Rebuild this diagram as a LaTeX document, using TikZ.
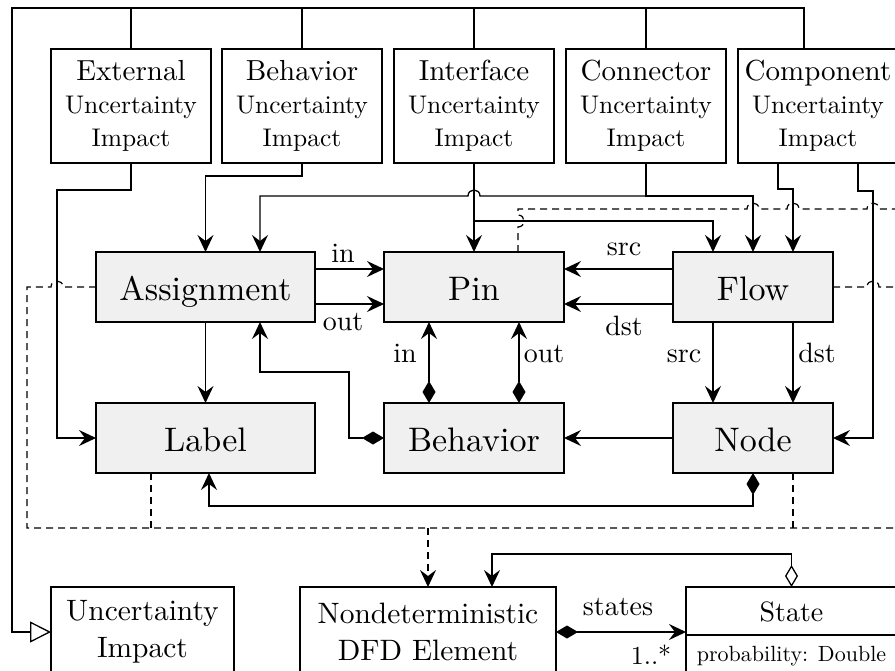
\documentclass[tikz,border=0pt]{standalone}
\usepackage{fontspec}
\setmainfont{lmroman10-regular.otf}
\usetikzlibrary{arrows.meta,calc}
\definecolor{boxgray}{RGB}{240,240,240}
\tikzset{
  stl/.tip={Stealth[length=17pt,width=16pt,inset=6pt]},
  dia/.tip={Diamond[length=22pt,width=13pt]},
  odia/.tip={Diamond[open,length=22pt,width=13pt,fill=white]},
  gtri/.tip={Triangle[open,length=21pt,width=21pt,fill=white]},
}
\begin{document}
\begin{tikzpicture}[x=1pt,y=-1pt,
  line width=1.3pt,
  every node/.style={inner sep=0pt, outer sep=0pt},
  impact/.style={draw, minimum width=160pt, minimum height=114pt, text width=160pt, align=center},
  elem/.style={draw, fill=boxgray, minimum height=70pt, text height=27pt, text depth=0pt, font=\fontsize{34}{40}\selectfont},
  bottombox/.style={draw, minimum height=90pt, align=center, font=\fontsize{29.5}{37}\selectfont},
  lbl/.style={anchor=base, font=\fontsize{28}{32}\selectfont},
  dsh/.style={dash pattern=on 7pt off 5pt, line width=1.2pt},
]
\useasboundingbox (0,0) rectangle (895,670);
\clip (0,0) rectangle (895,670);

% top impact boxes
\newcommand{\imptext}[1]{{\fontsize{29}{34}\selectfont #1\par}{\fontsize{25.5}{33}\selectfont Uncertainty\par Impact\par}}
\node[impact] (ext)  at (131,106) {\imptext{External}};
\node[impact] (behi) at (302,106) {\imptext{Behavior}};
\node[impact] (int)  at (474,106) {\imptext{Interface}};
\node[impact] (con)  at (646,106) {\imptext{Connector}};
\node[impact] (com)  at (818,106) {\imptext{Component}};

% main elements
\node[elem, minimum width=219pt] (asg)  at (205.5,287) {Assignment};
\node[elem, minimum width=180pt] (pin)  at (474,287) {Pin};
\node[elem, minimum width=160pt] (flow) at (753,287) {Flow};
\node[elem, minimum width=219pt] (lab)  at (205.5,438) {Label};
\node[elem, minimum width=180pt] (bhv)  at (474,438) {Behavior};
\node[elem, minimum width=160pt] (nd)   at (753,438) {Node};

% bottom boxes
\node[bottombox, minimum width=183pt] (ui)  at (142.5,632) {Uncertainty\\Impact};
\node[bottombox, minimum width=256pt] (nde) at (428,632) {Nondeterministic\\DFD Element};
\node[draw, minimum width=211pt, minimum height=90pt] (st) at (791.5,632) {};
\draw ($(st.north west)+(0,48)$) -- ($(st.north east)+(0,48)$);
\node[anchor=base, font=\fontsize{28}{32}\selectfont] (sttitle) at (791.5,621) {State};
\node[anchor=base, font=\fontsize{22}{26}\selectfont] (stattr) at (791.5,661) {probability: Double};

% top frame (generalization)
\coordinate (tl) at (12,8);
\draw[-{gtri}] ([xshift=-14pt]com.north) |- (tl) |- (ui.west);
\draw (ext.north) -- (ext.north |- tl);
\draw (behi.north) -- (behi.north |- tl);
\draw (int.north) -- (int.north |- tl);
\draw (con.north) -- (con.north |- tl);

% impacts
\draw[-{stl}] (ext.south) |- (57,190) |- (lab.west);
\draw[-{stl}] (behi.south) -- ++(0,13) -| (asg.north);
\coordinate (cj) at (646,196);
\draw[-{stl}] (con.south) |- (753,196) -- (flow.north);
\draw[-{stl}] (cj) -- (480,196) .. controls (480,188) and (468,188) .. (468,196) -- (260,196) -- ([xshift=54.5pt]asg.north);
\draw[-{stl}] (int.south) -- (pin.north);
\coordinate (ij) at (474,221);
\draw[-{stl}] (ij) -| ([xshift=-40pt]flow.north);
\draw[-{stl}] ([xshift=-40pt]com.south) -- ++(0,26) -| ([xshift=40pt]flow.north);
\draw[-{stl}] ([xshift=40pt]com.south) -- ++(0,28) -- ++(15,0) |- (nd.east);

% metamodel relations
\draw[-{stl}] ([yshift=18pt]asg.east) -- ([yshift=18pt]pin.west);
\draw[-{stl}] ([yshift=-17pt]asg.east) -- ([yshift=-17pt]pin.west);
\draw[-{stl}] ([yshift=18pt]flow.west) -- ([yshift=18pt]pin.east);
\draw[-{stl}] ([yshift=-17pt]flow.west) -- ([yshift=-17pt]pin.east);
\draw[{dia}-{stl}] ([xshift=-45pt]bhv.north) -- ([xshift=-45pt]pin.south);
\draw[{dia}-{stl}] ([xshift=45pt]bhv.north) -- ([xshift=45pt]pin.south);
\draw[-{stl}] (asg.south) -- (lab.north);
\draw[{dia}-{stl}] (bhv.west) -- ++(-35,0) |- (260,372) -- ([xshift=54.5pt]asg.south);
\draw[-{stl}] ([xshift=-40pt]flow.south) -- ([xshift=-40pt]nd.north);
\draw[-{stl}] ([xshift=40pt]flow.south) -- ([xshift=40pt]nd.north);
\draw[-{stl}] (nd.west) -- (bhv.east);
\draw[{dia}-{stl}] (nd.south) |- (209,506) -- ([xshift=3.5pt]lab.south);

% labels
\node[lbl] (l1) at (343,262) {in};
\node[lbl] (l2) at (343,330) {out};
\node[lbl] (l3) at (624,255) {src};
\node[lbl] (l4) at (624,335) {dst};
\node[lbl] (l5) at (405,362) {in};
\node[lbl] (l6) at (544,362) {out};
\node[lbl] (l7) at (684,362) {src};
\node[lbl] (l8) at (817,362) {dst};

% dashed generalizations
\draw[dsh] ([xshift=44pt]pin.north) -- (518,227) .. controls (526,227) and (526,215) .. (518,215) -- (518,209) -- (747,209) .. controls (747,201) and (759,201) .. (759,209) -- (787,209) .. controls (787,201) and (799,201) .. (799,209) -- (867,209) .. controls (867,201) and (879,201) .. (879,209) -- (910,209);
\draw[dsh] (flow.east) -- (867,287) .. controls (867,279) and (879,279) .. (879,287) -- (910,287);
\draw[dsh] (asg.west) -- (63,287) .. controls (63,279) and (51,279) .. (51,287) -- (27,287) -- (27,528) -- (910,528);
\draw[dsh] ([xshift=-54.5pt]lab.south) -- (151,528);
\draw[dsh] ([xshift=40pt]nd.south) -- (793,528);
\coordinate (dj) at (428,528);
\draw[dsh,-{stl}] (dj) -- (nde.north);

% bottom relations
\draw[{dia}-{stl}] (nde.east) -- (nde.east -| st.west);
\node[lbl] (lstates) at (618,615) {states};
\node[anchor=base, font=\fontsize{26}{30}\selectfont] (lmult) at (651,664) {1..*};
\draw[{odia}-{stl}] (st.north) -- ++(0,-33) -| ([xshift=64pt]nde.north);
\end{tikzpicture}
\end{document}
